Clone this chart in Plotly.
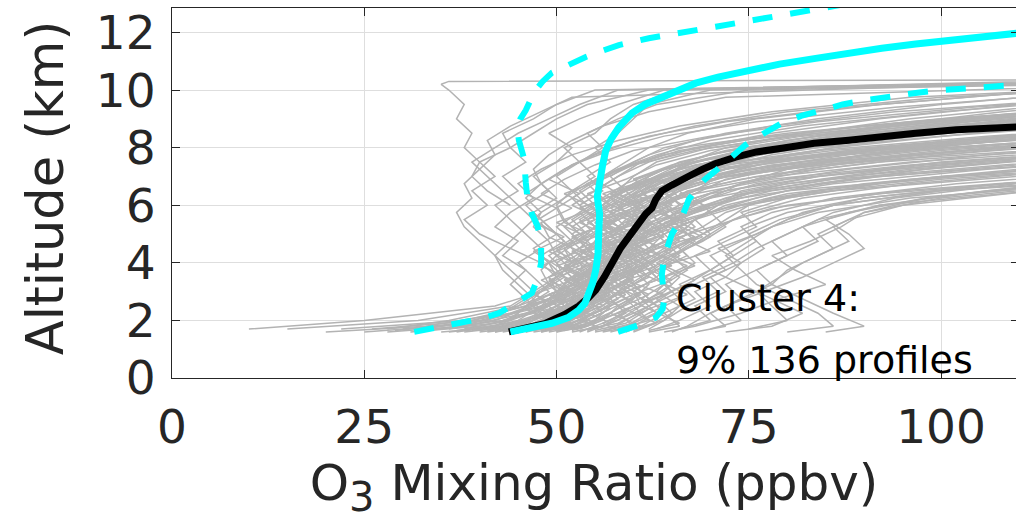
import plotly.graph_objects as go

N = None

# Three interleaved altitude grids (km) used by the individual ozonesonde profiles
ALT_A = [1.7, 2.0, 2.5, 3.0, 3.5, 4.0, 4.5, 5.0, 5.5, 6.0,
         6.5, 7.0, 7.5, 8.0, 8.5, 9.0, 9.5, 10.0, 10.35]
ALT_B = [1.6, 1.8, 2.25, 2.75, 3.25, 3.75, 4.25, 4.75, 5.25, 5.75,
         6.25, 6.75, 7.25, 7.75, 8.25, 8.75, 9.25, 9.75, 10.3]
ALT_C = [1.65, 1.9, 2.4, 2.9, 3.4, 3.9, 4.4, 4.9, 5.4, 5.9,
         6.4, 6.9, 7.4, 7.9, 8.4, 8.9, 9.4, 9.9, 10.33]

# O3 mixing ratio (ppbv) of each profile on ALT_A
profiles_a = [
    [44, 47, 50, 52, 53, 51, 54, 52, 55, 53, 56, 54, 57, 55, 58, 60, 62, 70, 140],
    [40, 45, 48, 50, 49, 52, 50, 53, 51, 50, 52, 55, 53, 56, 54, 58, 63, 75, 150],
    [48, 50, 52, 55, 54, 56, 53, 55, 57, 54, 52, 50, 53, 51, 55, 57, 60, 66, 130],
    [50, 53, 56, 58, 60, 57, 61, 59, 63, 62, 66, 72, 88, 118, N, N, N, N, N],
    [36, 42, 47, 51, 55, 58, 56, 60, 62, 60, 64, 70, 82, 100, 130, N, N, N, N],
    [22, 38, 46, 50, 54, 53, 57, 55, 58, 61, 59, 63, 68, 78, 96, 125, N, N, N],
    [55, 58, 61, 60, 63, 65, 62, 66, 68, 72, 80, 102, 135, N, N, N, N, N, N],
    [46, 49, 53, 57, 56, 59, 58, 62, 60, 64, 67, 76, 92, 120, N, N, N, N, N],
    [30, 41, 45, 48, 50, 49, 47, 50, 48, 46, 49, 47, 50, 52, 49, 53, 58, 64, 120],
    [58, 62, 60, 64, 66, 63, 67, 70, 68, 74, 86, 110, 140, N, N, N, N, N, N],
    [42, 46, 51, 54, 57, 55, 58, 56, 54, 57, 60, 62, 66, 74, 90, 112, 140, N, N],
    [52, 55, 57, 56, 60, 58, 62, 64, 61, 65, 63, 68, 76, 95, 125, N, N, N, N],
    [15, 32, 44, 47, 50, 52, 51, 54, 56, 52, 55, 58, 61, 66, 80, 100, 130, N, N],
    [63, 66, 70, 68, 72, 74, 71, 76, 80, 86, 100, 130, N, N, N, N, N, N, N],
    [47, 51, 55, 53, 57, 60, 63, 61, 65, 68, 66, 72, 84, 108, 140, N, N, N, N],
    [38, 44, 49, 52, 50, 48, 44, 40, 38, 41, 39, 42, 40, 44, 43, 47, 50, 55, 135],
    [53, 56, 58, 61, 59, 62, 65, 63, 66, 64, 68, 71, 76, 86, 104, 130, N, N, N],
    [26, 40, 48, 52, 55, 57, 60, 58, 56, 59, 62, 65, 70, 80, 96, 118, 140, N, N],
    [45, 48, 52, 56, 58, 61, 59, 57, 60, 58, 61, 64, 68, 76, 88, 105, 128, N, N],
    [60, 64, 67, 71, 69, 73, 76, 80, 84, 92, 112, 140, N, N, N, N, N, N, N],
    [43, 47, 50, 53, 55, 53, 51, 54, 52, 55, 53, 56, 59, 62, 67, 76, 92, 115, 150],
    [49, 52, 55, 58, 62, 60, 58, 61, 64, 67, 72, 84, 104, 130, N, N, N, N, N],
    [34, 43, 49, 51, 53, 56, 54, 57, 59, 63, 61, 64, 67, 72, 82, 96, 115, 140, N],
    [57, 59, 62, 65, 63, 61, 64, 67, 65, 70, 78, 92, 118, N, N, N, N, N, N],
    [10, 25, 42, 48, 51, 50, 53, 55, 53, 56, 58, 60, 63, 70, 84, 104, 130, N, N],
    [51, 54, 53, 56, 58, 57, 60, 62, 60, 63, 68, 78, 96, 124, N, N, N, N, N],
    [41, 44, 46, 49, 47, 45, 48, 46, 44, 42, 45, 43, 46, 44, 47, 50, 54, 62, 140],
    [66, 70, 68, 72, 70, 74, 77, 75, 79, 86, 100, 125, N, N, N, N, N, N, N],
    [47, 50, 54, 57, 60, 59, 62, 60, 63, 66, 64, 70, 78, 92, 112, 138, N, N, N],
    [28, 36, 45, 50, 52, 55, 57, 59, 62, 60, 64, 72, 86, 108, 135, N, N, N, N],
    [54, 57, 60, 58, 61, 64, 67, 70, 73, 80, 95, 120, N, N, N, N, N, N, N],
    [45, 49, 51, 50, 53, 55, 57, 55, 58, 56, 59, 57, 60, 64, 72, 84, 100, 122, 150],
    [75, 80, 78, 76, 79, 82, 86, 84, 88, 95, 112, 140, N, N, N, N, N, N, N],
    [39, 46, 52, 55, 53, 56, 59, 62, 66, 70, 76, 88, 108, 135, N, N, N, N, N],
    [50, 51, 53, 55, 52, 54, 52, 50, 47, 45, 43, 41, 39, 42, 45, 49, 53, 58, 130],
    [62, 64, 66, 63, 65, 68, 66, 69, 72, 75, 84, 100, 128, N, N, N, N, N, N],
    [33, 39, 46, 52, 57, 62, 60, 64, 68, 71, 74, 84, 100, 126, N, N, N, N, N],
    [48, 53, 57, 55, 58, 56, 59, 62, 65, 63, 66, 69, 73, 80, 92, 110, 135, N, N],
    [44, 46, 49, 51, 49, 52, 54, 56, 54, 57, 55, 58, 62, 68, 78, 92, 110, 135, N],
    [70, 74, 72, 77, 82, 86, 90, 88, 85, 92, 106, 130, N, N, N, N, N, N, N],
]

# O3 mixing ratio (ppbv) of each profile on ALT_B
profiles_b = [
    [56, 60, 63, 61, 64, 62, 65, 68, 66, 70, 68, 74, 82, 96, 118, 145, N, N, N],
    [37, 42, 45, 47, 45, 43, 42, 44, 46, 48, 51, 54, 58, 64, 74, 90, 112, 140, N],
    [80, 86, 84, 80, 76, 74, 72, 75, 78, 82, 90, 108, 135, N, N, N, N, N, N],
    [52, 56, 60, 64, 68, 72, 70, 74, 78, 84, 96, 120, N, N, N, N, N, N, N],
    [43, 48, 55, 59, 57, 60, 58, 61, 64, 62, 65, 70, 78, 90, 108, 132, N, N, N],
    [59, 61, 57, 60, 62, 60, 63, 66, 64, 67, 72, 80, 94, 116, 142, N, N, N, N],
    [35, 44, 50, 54, 58, 61, 64, 67, 71, 75, 82, 96, 118, N, N, N, N, N, N],
    [46, 50, 52, 51, 54, 57, 55, 53, 56, 59, 57, 61, 66, 74, 84, 98, 116, 138, N],
    [20, 33, 43, 46, 49, 51, 49, 52, 50, 53, 56, 59, 64, 72, 84, 100, 122, N, N],
    [64, 68, 74, 79, 85, 81, 78, 83, 87, 90, 100, 120, N, N, N, N, N, N, N],
    [42, 47, 50, 48, 46, 44, 42, 40, 38, 37, 39, 38, 40, 42, 41, 44, 48, 52, 120],
    [48, 51, 53, 56, 54, 57, 55, 58, 56, 59, 62, 60, 64, 70, 80, 94, 112, 135, N],
    [31, 40, 47, 50, 53, 51, 55, 53, 57, 55, 58, 62, 70, 84, 104, 130, N, N, N],
    [54, 56, 59, 57, 60, 63, 61, 64, 67, 65, 70, 76, 88, 106, 130, N, N, N, N],
    [45, 46, 48, 47, 49, 48, 50, 49, 47, 48, 46, 48, 47, 49, 52, 56, 62, 72, 140],
    [62, 66, 64, 68, 66, 70, 73, 71, 75, 80, 90, 108, 134, N, N, N, N, N, N],
    [40, 46, 51, 55, 53, 56, 58, 56, 59, 57, 60, 63, 67, 74, 86, 104, 128, N, N],
    [25, 35, 44, 49, 52, 55, 53, 56, 59, 62, 60, 65, 72, 86, 106, 132, N, N, N],
    [50, 52, 55, 58, 56, 59, 62, 60, 63, 61, 64, 67, 72, 80, 92, 110, 132, N, N],
    [68, 72, 70, 74, 78, 76, 80, 84, 82, 88, 98, 116, 140, N, N, N, N, N, N],
    [44, 49, 52, 50, 53, 51, 54, 52, 55, 53, 56, 54, 58, 62, 68, 78, 94, 118, 150],
    [57, 60, 58, 62, 65, 63, 67, 65, 69, 72, 78, 90, 110, 136, N, N, N, N, N],
    [38, 45, 48, 46, 44, 46, 43, 45, 42, 44, 47, 45, 48, 52, 58, 66, 78, 96, 140],
    [47, 52, 56, 54, 57, 60, 58, 62, 66, 64, 68, 74, 84, 100, 124, N, N, N, N],
    [53, 55, 52, 55, 58, 56, 60, 58, 62, 60, 63, 66, 70, 78, 90, 108, 130, N, N],
    [72, 78, 82, 78, 74, 70, 73, 76, 74, 78, 86, 102, 128, N, N, N, N, N, N],
    [42, 45, 49, 53, 51, 54, 57, 55, 58, 61, 59, 63, 68, 76, 90, 110, 136, N, N],
    [49, 53, 58, 62, 60, 63, 61, 65, 63, 68, 74, 86, 106, 132, N, N, N, N, N],
    [28, 38, 46, 51, 49, 52, 50, 53, 51, 54, 52, 55, 58, 63, 70, 82, 100, 124, N],
    [60, 62, 65, 63, 67, 70, 68, 72, 76, 74, 80, 92, 112, 138, N, N, N, N, N],
    [46, 48, 51, 49, 52, 50, 48, 51, 49, 47, 50, 48, 51, 55, 60, 68, 80, 100, 145],
    [55, 59, 62, 66, 64, 67, 65, 69, 72, 70, 76, 84, 98, 120, N, N, N, N, N],
    [41, 47, 53, 57, 55, 58, 56, 59, 62, 60, 64, 68, 75, 88, 108, 134, N, N, N],
    [85, 90, 86, 82, 78, 80, 84, 88, 86, 90, 98, 114, 138, N, N, N, N, N, N],
    [50, 54, 57, 60, 58, 61, 59, 62, 60, 63, 66, 64, 68, 72, 80, 92, 108, 130, N],
    [36, 43, 48, 52, 56, 54, 58, 62, 60, 64, 70, 80, 96, 120, N, N, N, N, N],
    [58, 61, 64, 62, 60, 63, 66, 64, 68, 66, 70, 74, 80, 90, 104, 124, N, N, N],
    [45, 50, 54, 52, 55, 53, 56, 54, 52, 55, 57, 60, 64, 72, 84, 102, 126, N, N],
    [65, 67, 70, 74, 72, 76, 80, 78, 82, 86, 94, 110, 136, N, N, N, N, N, N],
    [48, 52, 50, 53, 56, 54, 57, 60, 58, 56, 59, 62, 66, 74, 88, 106, 128, N, N],
]

# O3 mixing ratio (ppbv) of each profile on ALT_C
profiles_c = [
    [47, 50, 53, 57, 52, 58, 54, 60, 55, 61, 57, 63, 70, 84, 106, 134, N, N, N],
    [52, 55, 51, 56, 60, 55, 61, 57, 62, 58, 64, 68, 78, 96, 122, N, N, N, N],
    [44, 49, 54, 50, 55, 51, 56, 52, 57, 53, 58, 55, 60, 66, 78, 96, 120, 145, N],
    [58, 56, 60, 64, 59, 65, 61, 66, 62, 68, 74, 86, 108, 136, N, N, N, N, N],
    [39, 45, 50, 55, 51, 57, 53, 59, 55, 60, 56, 62, 68, 80, 100, 126, N, N, N],
    [50, 53, 57, 53, 58, 62, 57, 63, 59, 65, 61, 67, 74, 88, 110, 138, N, N, N],
    [46, 51, 48, 53, 49, 54, 50, 55, 51, 50, 53, 49, 52, 56, 62, 72, 88, 110, 150],
    [55, 59, 62, 58, 63, 59, 64, 68, 63, 69, 75, 88, 110, 138, N, N, N, N, N],
    [33, 42, 49, 54, 58, 54, 59, 55, 60, 56, 61, 66, 74, 90, 114, 140, N, N, N],
    [49, 52, 56, 60, 56, 61, 65, 60, 66, 62, 68, 72, 82, 100, 126, N, N, N, N],
    [43, 47, 51, 47, 52, 48, 53, 49, 48, 52, 48, 51, 55, 60, 70, 84, 104, 130, N],
    [60, 63, 59, 64, 68, 64, 70, 66, 72, 78, 92, 116, 140, N, N, N, N, N, N],
    [48, 53, 57, 61, 57, 62, 58, 63, 59, 64, 60, 65, 70, 78, 92, 112, 138, N, N],
    [37, 44, 52, 56, 52, 57, 53, 58, 54, 59, 63, 68, 76, 92, 116, 142, N, N, N],
    [53, 50, 55, 59, 55, 60, 56, 61, 57, 62, 58, 63, 67, 74, 86, 104, 128, N, N],
    [45, 50, 46, 51, 55, 50, 56, 52, 57, 53, 58, 62, 70, 86, 108, 136, N, N, N],
    [56, 60, 64, 60, 65, 61, 66, 70, 66, 72, 80, 96, 120, N, N, N, N, N, N],
    [42, 48, 53, 49, 54, 50, 47, 51, 47, 50, 46, 49, 52, 57, 64, 76, 94, 118, 150],
    [51, 55, 59, 55, 60, 56, 61, 57, 62, 58, 63, 60, 65, 72, 84, 102, 126, N, N],
    [40, 47, 52, 57, 53, 58, 62, 58, 63, 67, 64, 70, 80, 98, 124, N, N, N, N],
    [54, 57, 53, 58, 54, 59, 55, 60, 56, 61, 57, 62, 66, 74, 88, 108, 132, N, N],
    [47, 52, 56, 52, 57, 61, 56, 62, 67, 62, 68, 78, 96, 122, N, N, N, N, N],
    [29, 39, 47, 52, 48, 53, 49, 54, 50, 55, 51, 56, 60, 68, 80, 98, 122, N, N],
    [57, 54, 58, 62, 58, 63, 59, 64, 60, 66, 70, 80, 98, 124, N, N, N, N, N],
    [45, 49, 53, 49, 54, 58, 54, 59, 55, 60, 64, 60, 66, 76, 92, 114, 140, N, N],
    [50, 54, 50, 55, 51, 56, 60, 55, 61, 57, 63, 70, 84, 104, 132, N, N, N, N],
    [62, 66, 62, 67, 63, 68, 64, 69, 65, 72, 82, 100, 126, N, N, N, N, N, N],
    [41, 46, 51, 55, 51, 56, 52, 57, 53, 58, 54, 59, 63, 70, 82, 100, 124, 150, N],
    [48, 51, 55, 51, 56, 52, 57, 61, 57, 62, 58, 64, 72, 88, 110, 138, N, N, N],
    [53, 58, 62, 58, 63, 67, 62, 68, 64, 70, 66, 74, 86, 106, 134, N, N, N, N],
]

# One profile that folds back near the flight ceiling
loop_alt = [6.0, 6.5, 7.0, 7.5, 8.0, 8.5, 9.0, 9.5, 10.0, 10.2, 10.3, 10.38]
loop_o3 = [44, 41, 39, 40, 38, 39, 37, 38, 36, 35, 36, 150]

# Cluster mean profile
mean_alt = [1.6, 1.9, 2.2, 2.5, 2.8, 3.05, 3.5, 4.0, 4.5, 4.9, 5.3, 5.7, 5.9,
            6.1, 6.2, 6.35, 6.5, 6.7, 6.9, 7.05, 7.25, 7.45, 7.67, 7.85, 7.98,
            8.15, 8.26, 8.4, 8.5, 8.62, 8.72]
mean_o3 = [43.8, 48.6, 51.0, 52.9, 54.2, 55.1, 56.2, 57.2, 58.3, 59.4, 60.4,
           61.6, 62.4, 62.6, 62.9, 63.3, 63.7, 65.0, 66.2, 67.5, 69.0, 70.7,
           73.3, 76.0, 79.3, 83.5, 88.0, 92.5, 96.7, 102.0, 109.8]

# Reference profile (solid cyan) and its spread (dashed cyan)
ref_alt = [1.6, 1.75, 1.9, 2.1, 2.36, 2.6, 2.95, 3.3, 3.75, 4.3, 5.1, 5.7,
           6.3, 6.9, 7.4, 7.9, 8.3, 8.7, 9.0, 9.2, 9.5, 9.76, 10.0, 10.24,
           10.45, 10.7, 10.9, 11.1, 11.3, 11.45, 11.6, 11.74, 11.86, 11.97]
ref_o3 = [44.0, 46.5, 49.4, 51.5, 52.9, 53.7, 54.2, 54.7, 55.1, 55.4, 55.5,
          55.6, 55.3, 55.6, 56.0, 56.4, 57.1, 58.1, 59.0, 59.8, 61.5, 63.7,
          65.8, 68.1, 71.0, 75.0, 79.0, 83.7, 88.0, 92.3, 96.7, 101.0, 105.5,
          109.8]

low_alt = [1.6, 1.75, 1.9, 2.05, 2.25, 2.6, 2.95, 3.5, 4.0, 4.8, 5.3, 5.7,
           6.3, 6.8, 7.6, 8.26, 8.7, 9.0, 9.3, 9.76, 10.0, 10.3, 10.6, 10.8,
           11.0, 11.15, 11.35, 11.56, 11.8, 12.0, 12.2, 12.4, 12.67, 12.95,
           13.1]
low_o3 = [31.5, 34.5, 37.5, 40.0, 42.5, 44.8, 46.8, 47.6, 48.0, 48.0, 47.5,
          46.8, 46.2, 46.0, 45.8, 45.1, 44.9, 45.3, 46.0, 46.8, 47.3, 48.2,
          49.4, 51.0, 52.5, 53.8, 55.8, 58.1, 62.0, 65.9, 70.7, 75.0, 81.1,
          87.1, 90.0]

high_alt = [1.6, 1.85, 2.1, 2.4, 2.7, 3.1, 3.6, 4.2, 4.6, 5.0, 5.5, 5.9, 6.2,
            6.6, 6.9, 7.2, 7.6, 8.1, 8.5, 8.85, 9.1, 9.3, 9.5, 9.65, 9.8, 9.9,
            10.0, 10.07, 10.17]
high_o3 = [58.0, 60.8, 62.9, 63.8, 64.0, 63.8, 63.7, 64.0, 64.4, 65.0, 66.2,
           66.8, 67.2, 68.3, 69.3, 70.7, 72.5, 74.6, 77.0, 79.3, 81.8, 84.5,
           87.2, 90.2, 93.5, 96.7, 100.0, 103.2, 109.5]

x_ticks = [0, 25, 50, 75, 100]
y_ticks = [0, 2, 4, 6, 8, 10, 12]
X_RANGE = [0, 109.75]
Y_RANGE = [0, 12.85]

AXIS_COLOR = "#262626"
FONT = "DejaVu Sans"
TICK_FONT = dict(family=FONT, size=47, color=AXIS_COLOR)
GRAY = "#b3b3b3"

fig = go.Figure()

for grid, group in ((ALT_A, profiles_a), (ALT_B, profiles_b), (ALT_C, profiles_c)):
    for vals in group:
        fig.add_trace(go.Scatter(x=vals, y=grid, mode="lines",
                                 line=dict(color=GRAY, width=1.5),
                                 hoverinfo="skip", showlegend=False))
fig.add_trace(go.Scatter(x=loop_o3, y=loop_alt, mode="lines",
                         line=dict(color=GRAY, width=1.5),
                         hoverinfo="skip", showlegend=False))

fig.add_trace(go.Scatter(x=mean_o3, y=mean_alt, mode="lines",
                         line=dict(color="black", width=7), showlegend=False))
fig.add_trace(go.Scatter(x=ref_o3, y=ref_alt, mode="lines",
                         line=dict(color="#00ffff", width=7), showlegend=False))
for xs, ys in ((low_o3, low_alt), (high_o3, high_alt)):
    fig.add_trace(go.Scatter(x=xs, y=ys, mode="lines",
                             line=dict(color="#00ffff", width=6, dash="20px,18px"),
                             showlegend=False))

# right-hand tick marks only (no spine on that side)
fig.add_trace(go.Scatter(x=[None], y=[None], yaxis="y2", showlegend=False,
                         hoverinfo="skip"))

fig.add_annotation(x=65.3, y=2.78, xref="x", yref="y", text="Cluster 4:",
                   showarrow=False, xanchor="left", yanchor="middle",
                   font=dict(family=FONT, size=38, color="black"))
fig.add_annotation(x=65.3, y=0.63, xref="x", yref="y", text="9% 136 profiles",
                   showarrow=False, xanchor="left", yanchor="middle",
                   font=dict(family=FONT, size=38, color="black"))

# y-axis title
fig.add_annotation(x=-0.150, y=0.514, xref="paper", yref="paper",
                   text="Altitude (km)", textangle=-90, showarrow=False,
                   xanchor="center", yanchor="middle",
                   font=dict(family=FONT, size=51, color=AXIS_COLOR))

fig.update_layout(
    width=1016, height=532,
    margin=dict(l=172, r=0, t=8, b=154),
    paper_bgcolor="white", plot_bgcolor="white",
    showlegend=False,
    xaxis=dict(range=X_RANGE, tickvals=x_ticks, ticks="inside", ticklen=8,
               tickcolor=AXIS_COLOR, showline=True, linecolor=AXIS_COLOR,
               linewidth=1, mirror="ticks", showgrid=True, gridcolor="#dedede",
               zeroline=False, tickfont=TICK_FONT, ticklabelstandoff=8,
               ticklabeloverflow="allow",
               title=dict(text="O<sub><span style='font-size:40px'>3</span></sub> Mixing Ratio (ppbv)",
                          font=dict(family=FONT, size=50, color=AXIS_COLOR),
                          standoff=0)),
    yaxis=dict(range=Y_RANGE, tickvals=y_ticks, ticks="inside", ticklen=8,
               tickcolor=AXIS_COLOR, showline=True, linecolor=AXIS_COLOR,
               linewidth=1, showgrid=True, gridcolor="#dedede", zeroline=False,
               tickfont=TICK_FONT, ticklabelstandoff=6,
               ticklabeloverflow="allow"),
    yaxis2=dict(overlaying="y", side="right", range=Y_RANGE, tickvals=y_ticks,
                ticks="inside", ticklen=5, tickcolor=AXIS_COLOR,
                showticklabels=False, showgrid=False, showline=False,
                zeroline=False),
)

fig.write_html("out.html")
